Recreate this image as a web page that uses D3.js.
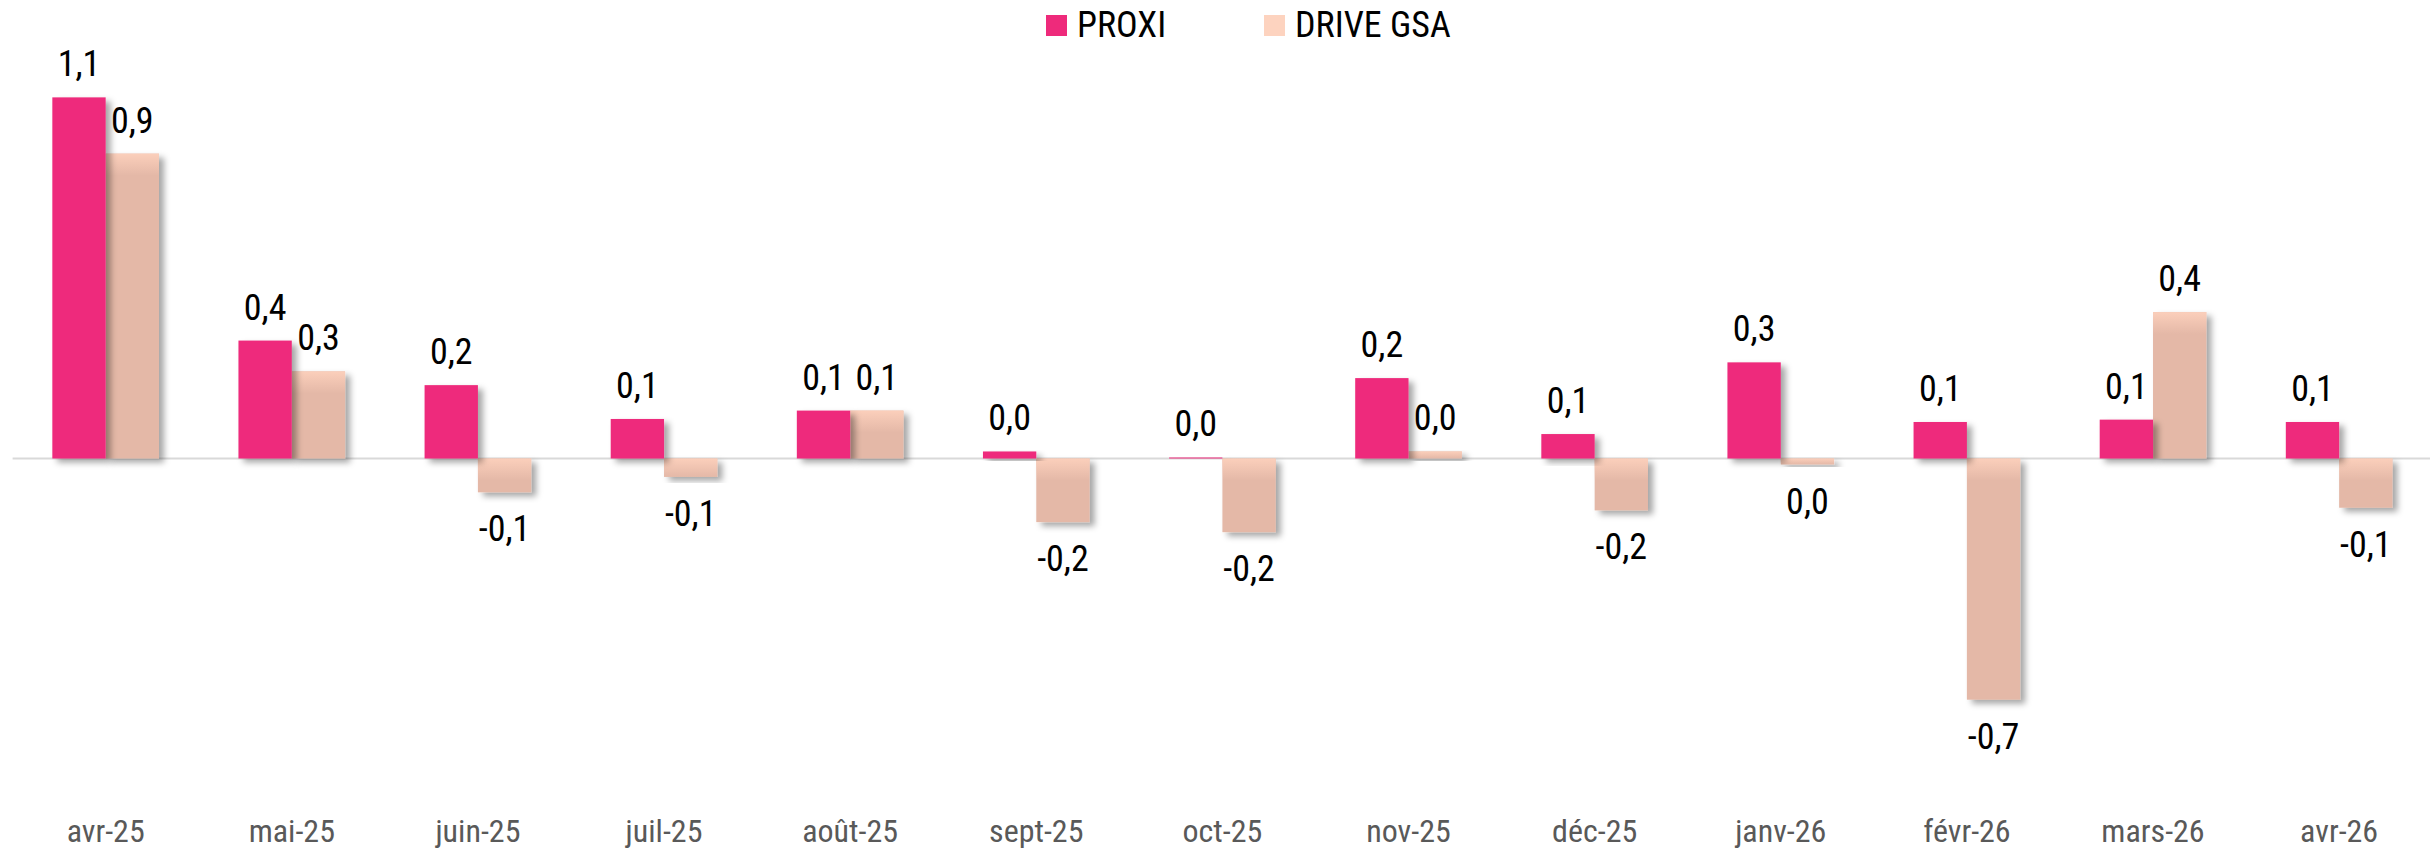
<!DOCTYPE html>
<html lang="fr">
  <head>
    <meta charset="UTF-8">
    <title>PROXI / DRIVE GSA</title>
    <style>
      body {
	margin: 0;
	background: #fff;
      }
      svg {
	display: block;
      }
      text {
	font-family: "Roboto Condensed", Roboto, sans-serif;
	font-stretch: condensed;
      }
    </style>
    <script src="https://d3js.org/d3.v7.min.js"></script>
    <script>
      var months = ["avr-25", "mai-25", "juin-25", "juil-25", "août-25", "sept-25", "oct-25",
		    "nov-25", "déc-25", "janv-26", "févr-26", "mars-26", "avr-26"];
      var seriesNames = ["PROXI", "DRIVE GSA"];
      var proxi = [1.078, 0.352, 0.219, 0.118, 0.143, 0.021, 0.003, 0.24, 0.073, 0.287, 0.109, 0.116, 0.109];
      var drive = [0.91, 0.26, -0.101, -0.055, 0.143, -0.19, -0.22, 0.021, -0.155, -0.018, -0.72, 0.437, -0.147];

      window.onload = function () {
	var width = 2430;
	var height = 851;
	var colors = { "PROXI": "#ee2a7b", "DRIVE GSA": "#e4b8a7" };
	var legendColors = { "PROXI": "#ee2a7b", "DRIVE GSA": "#fdd3bf" };

	var fr = d3.formatLocale({ decimal: ",", thousands: "\u00a0", grouping: [3],
				   currency: ["", "\u00a0€"], minus: "-" });
	var fmt = fr.format(".1f");

	var rows = months.map(function (m, i) {
	  return { month: m, "PROXI": proxi[i], "DRIVE GSA": drive[i] };
	});

	var x = d3.scaleBand().domain(months)
	  .range([12.6, 2432.2])
	  .paddingInner(0.427)
	  .paddingOuter(0.2135);
	var xs = d3.scaleBand().domain(seriesNames).range([0, x.bandwidth()]);
	// y grows downwards, zero line sits at ~458
	var y = d3.scaleLinear().domain([-0.8, 1.2]).range([726.5, 56.5]);

	var svg = d3.select("body").append("svg")
		    .attr("width", width)
		    .attr("height", height);

	var defs = svg.append("defs");
	var shadow = defs.append("filter").attr("id", "shadow")
	  .attr("x", "-20%").attr("y", "-20%")
	  .attr("width", "150%").attr("height", "150%");
	shadow.append("feDropShadow")
	  .attr("dx", 5).attr("dy", 4)
	  .attr("stdDeviation", 3)
	  .attr("flood-color", "#000")
	  .attr("flood-opacity", 0.35);

	var shine = defs.append("linearGradient").attr("id", "shine")
	  .attr("x1", 0).attr("y1", 0).attr("x2", 0).attr("y2", 1);
	shine.append("stop").attr("offset", "0%").attr("stop-color", "#fbcfbb").attr("stop-opacity", 1);
	shine.append("stop").attr("offset", "100%").attr("stop-color", "#fbcfbb").attr("stop-opacity", 0);

	// zero line
	svg.append("line")
	  .attr("x1", 12.6).attr("x2", width)
	  .attr("y1", y(0)).attr("y2", y(0))
	  .attr("stroke", "#d9d9d9")
	  .attr("stroke-width", 2);

	// drive first so the proxi shadow falls on it
	["DRIVE GSA", "PROXI"].forEach(function (s) {
	  var g = svg.append("g");
	  g.selectAll("rect.bar").data(rows).enter().append("rect")
	    .attr("class", "bar")
	    .attr("x", function (d) { return x(d.month) + xs(s); })
	    .attr("y", function (d) { return Math.min(y(d[s]), y(0)); })
	    .attr("width", xs.bandwidth())
	    .attr("height", function (d) { return Math.abs(y(d[s]) - y(0)); })
	    .attr("fill", colors[s])
	    .attr("filter", "url(#shadow)");
	  if (s === "DRIVE GSA") {
	    g.selectAll("rect.shine").data(rows).enter().append("rect")
	      .attr("class", "shine")
	      .attr("x", function (d) { return x(d.month) + xs(s); })
	      .attr("y", function (d) { return Math.min(y(d[s]), y(0)); })
	      .attr("width", xs.bandwidth())
	      .attr("height", function (d) { return Math.min(22, Math.abs(y(d[s]) - y(0))); })
	      .attr("fill", "url(#shine)");
	  }
	});

	// value labels
	seriesNames.forEach(function (s) {
	  svg.append("g").selectAll("text").data(rows).enter().append("text")
	    .attr("x", function (d) { return x(d.month) + xs(s) + xs.bandwidth() / 2; })
	    .attr("y", function (d) {
	      return d[s] >= 0 ? y(d[s]) - 21 : y(d[s]) + 49;
	    })
	    .attr("text-anchor", "middle")
	    .attr("font-size", 36)
	    .attr("fill", "#000")
	    .text(function (d) { return fmt(d[s]); });
	});

	var xAxis = d3.axisBottom(x).tickSize(0).tickPadding(19);
	var axisG = svg.append("g")
	  .attr("transform", "translate(0,800)")
	  .call(xAxis);
	axisG.select(".domain").remove();
	axisG.selectAll("text")
	  .attr("font-size", 32)
	  .attr("font-family", null)
	  .attr("fill", "#595959");

	// legend
	var legendX = [1046, 1264];
	var legend = svg.append("g").selectAll("g").data(seriesNames).enter().append("g")
	  .attr("transform", function (d, i) { return "translate(" + legendX[i] + ",15)"; });
	legend.append("rect")
	  .attr("width", 21).attr("height", 21)
	  .attr("fill", function (d) { return legendColors[d]; });
	legend.append("text")
	  .attr("x", 31).attr("y", 22)
	  .attr("font-size", 36)
	  .attr("fill", "#000")
	  .text(function (d) { return d; });
      };
    </script>
  </head>
  <body>
  </body>
</html>
